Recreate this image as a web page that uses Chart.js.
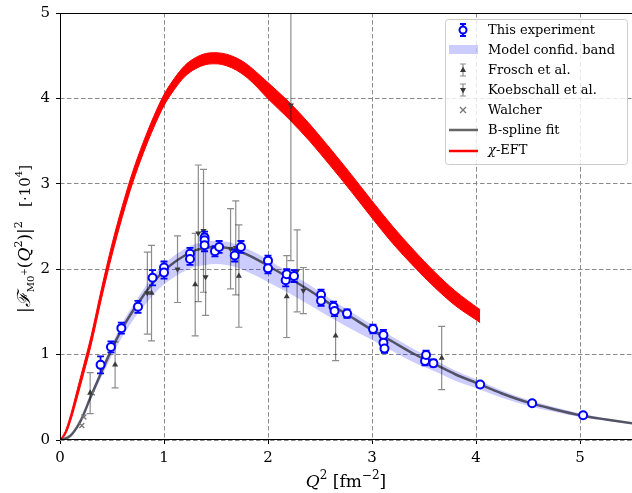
<!DOCTYPE html>
<html>
<head>
<meta charset="utf-8">
<script src="https://cdn.jsdelivr.net/npm/chart.js@4.4.0/dist/chart.umd.min.js"></script>
<style>
  html, body { margin: 0; padding: 0; background: #fff; }
  canvas { display: block; }
</style>
</head>
<body>
<canvas id="ffChart" width="632" height="493"></canvas>
<script>
// Daten: dieses Experiment
const thisQ2 = [0.39, 0.49, 0.59, 0.75, 0.89, 1.0, 1.0, 1.25, 1.25, 1.39, 1.39, 1.39, 1.49, 1.53, 1.68, 1.74,
  2.0, 2.0, 2.17, 2.18, 2.25, 2.51, 2.51, 2.63, 2.64, 2.76, 3.01, 3.11, 3.11, 3.12, 3.51, 3.52, 3.59, 4.04, 4.54, 5.03];
const thisF = [0.88, 1.09, 1.31, 1.56, 1.90, 2.02, 1.96, 2.18, 2.12, 2.37, 2.34, 2.28, 2.21, 2.26, 2.16, 2.26,
  2.10, 2.01, 1.87, 1.94, 1.92, 1.70, 1.63, 1.56, 1.51, 1.48, 1.30, 1.23, 1.14, 1.07, 0.925, 0.995, 0.90, 0.65, 0.43, 0.29];
const thisErr = [0.10, 0.065, 0.065, 0.07, 0.09, 0.07, 0.07, 0.07, 0.07, 0.07, 0.07, 0.07, 0.06, 0.07, 0.07, 0.07,
  0.06, 0.06, 0.07, 0.06, 0.07, 0.06, 0.06, 0.06, 0.06, 0.05, 0.05, 0.06, 0.05, 0.05, 0.05, 0.05, 0.04, 0.02, 0.015, 0.015];

// Frosch et al.
const froschQ2 = [0.29, 0.53, 0.88, 1.30, 1.72, 2.18, 2.65, 3.67];
const froschF = [0.55, 0.88, 1.72, 1.82, 1.92, 1.68, 1.22, 0.96];
const froschErr = [0.24, 0.27, 0.56, 0.60, 0.60, 0.48, 0.29, 0.37];

// Koebschall et al.
const koebQ2 = [0.84, 1.13, 1.33, 1.38, 1.40, 1.64, 1.69, 2.22, 2.28, 2.34];
const koebF = [1.72, 2.0, 2.42, 2.45, 1.91, 2.24, 2.25, 3.92, 1.98, 1.75];
const koebErr = [0.48, 0.39, 0.80, 0.72, 0.45, 0.47, 0.55, 1.82, 0.48, 0.27];

// Walcher
const walcherQ2 = [0.21, 0.23, 0.31];
const walcherF = [0.17, 0.27, 0.55];

// B-spline Fit und Modellband
const fitQ2 = [0, 0.1, 0.2, 0.3, 0.4, 0.5, 0.6, 0.7, 0.8, 0.9, 1.0, 1.1, 1.2, 1.3, 1.4, 1.5, 1.6, 1.7, 1.8, 1.9, 2.0,
  2.2, 2.4, 2.6, 2.8, 3.0, 3.2, 3.4, 3.6, 3.8, 4.0, 4.25, 4.5, 4.75, 5.0, 5.25, 5.5];
const fitF = [0, 0.05, 0.23, 0.52, 0.80, 1.07, 1.31, 1.51, 1.69, 1.85, 1.98, 2.08, 2.16, 2.22, 2.25, 2.26, 2.25, 2.22, 2.17, 2.11, 2.04,
  1.90, 1.75, 1.59, 1.44, 1.29, 1.15, 1.01, 0.89, 0.77, 0.67, 0.545, 0.44, 0.36, 0.29, 0.24, 0.195];
const bandUpper = [0, 0.06, 0.25, 0.55, 0.84, 1.12, 1.37, 1.575, 1.76, 1.925, 2.06, 2.16, 2.24, 2.295, 2.325, 2.33, 2.32, 2.29, 2.24, 2.18, 2.11,
  1.965, 1.815, 1.65, 1.50, 1.35, 1.205, 1.065, 0.94, 0.815, 0.71, 0.58, 0.47, 0.385, 0.31, 0.255, 0.205];
const bandLower = [0, 0.04, 0.20, 0.48, 0.74, 0.99, 1.21, 1.40, 1.56, 1.705, 1.82, 1.91, 1.98, 2.03, 2.05, 2.06, 2.05, 2.02, 1.97, 1.915, 1.85,
  1.72, 1.58, 1.435, 1.30, 1.17, 1.04, 0.91, 0.805, 0.695, 0.61, 0.495, 0.40, 0.33, 0.27, 0.225, 0.185];

// chi-EFT Band
const eftQ2 = [0, 0.05, 0.1, 0.15, 0.2, 0.3, 0.4, 0.5, 0.6, 0.7, 0.8, 0.9, 1.0, 1.1, 1.2, 1.3, 1.4, 1.5, 1.6, 1.7, 1.8, 1.9, 2.0,
  2.2, 2.4, 2.6, 2.8, 3.0, 3.2, 3.4, 3.6, 3.8, 4.04];
const eftUpper = [0, 0.10, 0.285, 0.515, 0.75, 1.225, 1.78, 2.295, 2.745, 3.145, 3.485, 3.785, 4.045, 4.235, 4.385, 4.475, 4.525, 4.535, 4.518, 4.472, 4.398, 4.295, 4.185,
  3.96, 3.70, 3.41, 3.11, 2.80, 2.50, 2.225, 1.97, 1.745, 1.525];
const eftLower = [0, 0.06, 0.215, 0.425, 0.65, 1.115, 1.66, 2.165, 2.615, 3.015, 3.355, 3.655, 3.915, 4.105, 4.255, 4.345, 4.395, 4.405, 4.382, 4.328, 4.242, 4.125, 3.995,
  3.76, 3.50, 3.21, 2.91, 2.60, 2.30, 2.035, 1.79, 1.575, 1.375];

const xTicks = [0, 1, 2, 3, 4, 5];
const yTicks = [0, 1, 2, 3, 4, 5];

const SERIF = '"DejaVu Serif", "Liberation Serif", serif';
const BLUE = '#0000ff';
const GREY_BAR = 'rgba(0,0,0,0.45)';
const GREY_MARK = '#3a3a3a';

const toXY = (xs, ys) => xs.map((x, i) => ({ x: x, y: ys[i] }));

// Fehlerbalken unter den Punkten zeichnen
const errorBars = {
  id: 'errorBars',
  beforeDatasetDraw(chart, args) {
    const ds = chart.data.datasets[args.index];
    if (!ds.errors) return;
    const { ctx, chartArea: a } = chart;
    const xs = chart.scales.x, ys = chart.scales.y;
    const cap = ds.capSize;
    ctx.save();
    ctx.beginPath();
    ctx.rect(a.left, a.top, a.right - a.left, a.bottom - a.top);
    ctx.clip();
    ctx.strokeStyle = ds.errorColor;
    ctx.lineWidth = ds.errorWidth;
    ds.data.forEach((p, i) => {
      const px = xs.getPixelForValue(p.x);
      const y1 = ys.getPixelForValue(p.y - ds.errors[i]);
      const y2 = ys.getPixelForValue(p.y + ds.errors[i]);
      ctx.beginPath();
      ctx.moveTo(px, y1); ctx.lineTo(px, y2);
      ctx.moveTo(px - cap, y1); ctx.lineTo(px + cap, y1);
      ctx.moveTo(px - cap, y2); ctx.lineTo(px + cap, y2);
      ctx.stroke();
    });
    ctx.restore();
  }
};

function drawRich(ctx, parts, cx, cy) {
  // parts: [text, size, italic, dy]
  let total = 0;
  parts.forEach(p => {
    ctx.font = (p[2] ? 'italic ' : '') + p[1] + 'px ' + SERIF;
    p.w = ctx.measureText(p[0]).width;
    total += p.w;
  });
  let x = cx - total / 2;
  ctx.textAlign = 'left';
  ctx.textBaseline = 'alphabetic';
  parts.forEach(p => {
    ctx.font = (p[2] ? 'italic ' : '') + p[1] + 'px ' + SERIF;
    ctx.fillText(p[0], x, cy + (p[3] || 0));
    x += p.w;
  });
}

// Rahmen, Achsentitel, Legende
const decorations = {
  id: 'decorations',
  afterDatasetsDraw(chart) {
    const { ctx, chartArea: a } = chart;
    ctx.save();
    ctx.strokeStyle = '#000';
    ctx.lineWidth = 1;
    ctx.strokeRect(Math.round(a.left) + 0.5, Math.round(a.top) + 0.5,
      Math.round(a.right - a.left), Math.round(a.bottom - a.top) - 1);
    ctx.restore();
  },
  afterDraw(chart) {
    const { ctx, chartArea: a } = chart;
    ctx.save();
    ctx.fillStyle = '#000';
    // x-Titel
    drawRich(ctx, [['Q', 17, true], ['2', 12, false, -8], [' [fm', 17, false], ['\u22122', 12, false, -8], [']', 17, false]],
      (a.left + a.right) / 2, 487);
    // y-Titel
    ctx.save();
    ctx.translate(30, 239);
    ctx.rotate(-Math.PI / 2);
    drawRich(ctx, [['|', 17, false], ['\u2131', 18, true], ['M0', 10, false, 4], ['+', 9, false, -3],
      ['(', 17, false], ['Q', 17, true], ['2', 11, false, -8], [')|', 17, false], ['2', 11, false, -8],
      ['   [\u00b710', 15, false], ['4', 10, false, -8], [']', 15, false]], 0, 0);
    ctx.restore();

    // Legende
    const lx = 445, ly = 19, lw = 182, lh = 145;
    ctx.beginPath();
    ctx.roundRect(lx + 0.5, ly + 0.5, lw, lh, 3);
    ctx.fillStyle = 'rgba(255,255,255,0.8)';
    ctx.fill();
    ctx.strokeStyle = '#cccccc';
    ctx.lineWidth = 1;
    ctx.stroke();

    const mx = 463, tx = 488;
    const rows = ['This experiment', 'Model confid. band', 'Frosch et al.', 'Koebschall et al.', 'Walcher', 'B-spline fit', null];
    rows.forEach((label, i) => {
      const y = 30 + i * 20;
      ctx.fillStyle = '#000';
      ctx.font = '13px ' + SERIF;
      ctx.textAlign = 'left';
      ctx.textBaseline = 'middle';
      if (label) ctx.fillText(label, tx, y + 1);
    });
    // chi-EFT Eintrag
    ctx.font = 'italic 13px ' + SERIF;
    ctx.textBaseline = 'middle';
    ctx.fillText('\u03c7', tx, 151);
    const cw = ctx.measureText('\u03c7').width;
    ctx.font = '13px ' + SERIF;
    ctx.fillText('-EFT', tx + cw, 151);

    // Symbole
    const bar = (y, color, width, half) => {
      ctx.strokeStyle = color; ctx.lineWidth = width;
      ctx.beginPath();
      ctx.moveTo(mx, y - half); ctx.lineTo(mx, y + half);
      ctx.moveTo(mx - 3, y - half); ctx.lineTo(mx + 3, y - half);
      ctx.moveTo(mx - 3, y + half); ctx.lineTo(mx + 3, y + half);
      ctx.stroke();
    };
    bar(30, BLUE, 1.8, 6);
    ctx.beginPath(); ctx.arc(mx, 30, 3.5, 0, Math.PI * 2);
    ctx.fillStyle = '#fff'; ctx.fill(); ctx.strokeStyle = BLUE; ctx.lineWidth = 2; ctx.stroke();

    ctx.fillStyle = 'rgba(0,0,255,0.2)';
    ctx.fillRect(449, 45, 29, 9);

    bar(70, GREY_BAR, 1.2, 6);
    ctx.fillStyle = GREY_MARK;
    ctx.beginPath(); ctx.moveTo(mx, 66.5); ctx.lineTo(mx + 3, 72); ctx.lineTo(mx - 3, 72); ctx.closePath(); ctx.fill();
    bar(90, GREY_BAR, 1.2, 6);
    ctx.beginPath(); ctx.moveTo(mx, 93.5); ctx.lineTo(mx + 3, 88); ctx.lineTo(mx - 3, 88); ctx.closePath(); ctx.fill();

    ctx.strokeStyle = '#777'; ctx.lineWidth = 1.3;
    ctx.beginPath();
    ctx.moveTo(mx - 3, 107); ctx.lineTo(mx + 3, 113);
    ctx.moveTo(mx - 3, 113); ctx.lineTo(mx + 3, 107);
    ctx.stroke();

    ctx.lineWidth = 2.5;
    ctx.strokeStyle = 'rgba(0,0,0,0.6)';
    ctx.beginPath(); ctx.moveTo(449, 130); ctx.lineTo(478, 130); ctx.stroke();
    ctx.strokeStyle = '#ff0000';
    ctx.beginPath(); ctx.moveTo(449, 151); ctx.lineTo(478, 151); ctx.stroke();
    ctx.restore();
  }
};

new Chart(document.getElementById('ffChart').getContext('2d'), {
  type: 'line',
  data: {
    datasets: [
      { // 0: EFT oben
        data: toXY(eftQ2, eftUpper), borderColor: '#ff0000', borderWidth: 1, pointRadius: 0,
        cubicInterpolationMode: 'monotone', fill: false, order: 6
      },
      { // 1: EFT unten
        data: toXY(eftQ2, eftLower), borderColor: '#ff0000', borderWidth: 1, pointRadius: 0,
        backgroundColor: '#ff0000', cubicInterpolationMode: 'monotone', fill: '-1', order: 6
      },
      { // 2: Band oben
        data: toXY(fitQ2, bandUpper), borderWidth: 0, borderColor: 'rgba(0,0,0,0)', pointRadius: 0,
        cubicInterpolationMode: 'monotone', fill: false, order: 7
      },
      { // 3: Band unten
        data: toXY(fitQ2, bandLower), borderWidth: 0, borderColor: 'rgba(0,0,0,0)', pointRadius: 0,
        backgroundColor: 'rgba(0,0,255,0.2)', cubicInterpolationMode: 'monotone', fill: '-1', order: 7
      },
      { // 4: B-spline
        data: toXY(fitQ2, fitF), borderColor: 'rgba(0,0,0,0.6)', borderWidth: 2.5, pointRadius: 0,
        cubicInterpolationMode: 'monotone', fill: false, order: 5
      },
      { // 5: Walcher
        data: toXY(walcherQ2, walcherF), showLine: false, pointStyle: 'crossRot', pointRadius: 3.5,
        borderColor: '#777', borderWidth: 1.3, order: 4
      },
      { // 6: Frosch
        data: toXY(froschQ2, froschF), showLine: false, pointStyle: 'triangle', pointRadius: 3.5,
        backgroundColor: GREY_MARK, borderColor: GREY_MARK, borderWidth: 0, order: 3,
        errors: froschErr, errorColor: GREY_BAR, errorWidth: 1.2, capSize: 3.5
      },
      { // 7: Koebschall
        data: toXY(koebQ2, koebF), showLine: false, pointStyle: 'triangle', rotation: 180, pointRadius: 3.5,
        backgroundColor: GREY_MARK, borderColor: GREY_MARK, borderWidth: 0, order: 2,
        errors: koebErr, errorColor: GREY_BAR, errorWidth: 1.2, capSize: 3.5
      },
      { // 8: dieses Experiment
        data: toXY(thisQ2, thisF), showLine: false, pointStyle: 'circle', pointRadius: 4,
        backgroundColor: '#fff', borderColor: BLUE, borderWidth: 2, order: 1,
        errors: thisErr, errorColor: BLUE, errorWidth: 1.8, capSize: 3.5
      }
    ]
  },
  options: {
    responsive: false,
    animation: false,
    devicePixelRatio: 1,
    layout: { autoPadding: false, padding: { top: 13, right: 0, left: 0, bottom: 0 } },
    plugins: { legend: { display: false }, tooltip: { enabled: false } },
    scales: {
      x: {
        type: 'linear', min: 0, max: 5.5,
        afterFit(scale) { scale.height = 53; scale.paddingLeft = 0; scale.paddingRight = 0; },
        afterBuildTicks(scale) { scale.ticks = xTicks.map(v => ({ value: v })); },
        ticks: { font: { family: SERIF, size: 15 }, color: '#000', padding: 5, maxRotation: 0 },
        grid: { color: '#8a8a8a', lineWidth: 1, drawTicks: true, tickLength: 4, tickColor: '#000' },
        border: { display: false, dash: [4.5, 2.5] }
      },
      y: {
        type: 'linear', min: 0, max: 5,
        afterFit(scale) { scale.width = 60; scale.paddingTop = 0; scale.paddingBottom = 0; },
        afterBuildTicks(scale) { scale.ticks = yTicks.map(v => ({ value: v })); },
        ticks: { font: { family: SERIF, size: 15 }, color: '#000', padding: 6 },
        grid: { color: '#8a8a8a', lineWidth: 1, drawTicks: true, tickLength: 4, tickColor: '#000' },
        border: { display: false, dash: [4.5, 2.5] }
      }
    }
  },
  plugins: [errorBars, decorations]
});
</script>
</body>
</html>
